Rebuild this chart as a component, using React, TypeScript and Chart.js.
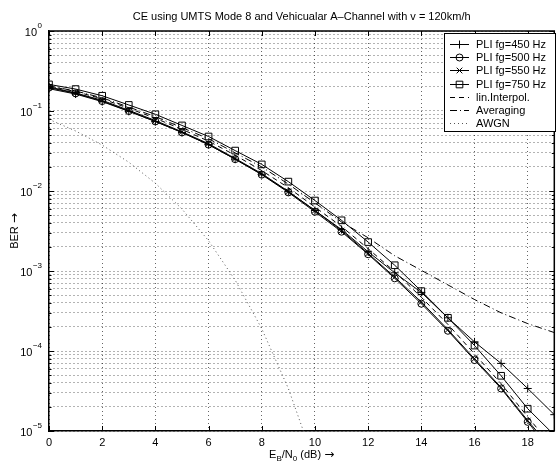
import React, { useEffect, useRef } from 'react';
import { Chart, registerables } from 'chart.js';

Chart.register(...registerables);

// ---------------- data ----------------
const ebn0 = [0, 1, 2, 3, 4, 5, 6, 7, 8, 9, 10, 11, 12, 13, 14, 15, 16, 17, 18, 19];
const pli450 = [0.19, 0.163, 0.131, 0.099, 0.074, 0.054, 0.038, 0.025, 0.0162, 0.0098, 0.0057, 0.0033, 0.00174, 0.00095, 0.00054, 0.00026, 0.00013, 0.00007, 0.000034, 0.000016];
const pli500 = [0.196, 0.166, 0.133, 0.1, 0.074, 0.054, 0.038, 0.025, 0.016, 0.0096, 0.0055, 0.0031, 0.00162, 0.00081, 0.00039, 0.000179, 0.000077, 0.000034, 0.000013, 0.000005];
const pli550 = [0.2, 0.168, 0.136, 0.102, 0.076, 0.055, 0.039, 0.0255, 0.0165, 0.0099, 0.0057, 0.0032, 0.00166, 0.00084, 0.00041, 0.000185, 0.00008, 0.000035, 0.0000135, 0.0000055];
const pli750 = [0.215, 0.188, 0.155, 0.119, 0.091, 0.066, 0.048, 0.032, 0.0215, 0.0131, 0.0076, 0.0043, 0.0023, 0.00118, 0.00056, 0.00026, 0.000117, 0.000049, 0.000019, 0.0000089];
const linInterpol = [0.205, 0.175, 0.142, 0.108, 0.081, 0.059, 0.042, 0.028, 0.018, 0.011, 0.0063, 0.0036, 0.0019, 0.00098, 0.00047, 0.000215, 0.000092, 0.000039, 0.000015, 0.000006];
const averaging = [0.205, 0.178, 0.146, 0.112, 0.085, 0.062, 0.045, 0.03, 0.02, 0.0122, 0.0071, 0.0041, 0.0026, 0.00155, 0.00102, 0.00067, 0.00044, 0.0003, 0.00022, 0.00017];
const awgnX = [0, 1, 2, 3, 4, 5, 6, 7, 8, 9, 10];
const awgn = [0.0786, 0.0563, 0.0375, 0.0229, 0.0125, 0.00595, 0.00239, 0.00077, 0.00019, 0.000034, 0.0000039];

const xTickStep = 2;
const yDecades = [-5, -4, -3, -2, -1, 0];
const yMantissas = [1, 2, 3, 4, 5, 6, 7, 8, 9];

const titleText = 'CE using UMTS Mode 8 and Vehicualar A\u2013Channel with v = 120km/h';
const yTitle = 'BER \u2192';
const legendLabels = ['PLI fg=450 Hz', 'PLI fg=500 Hz', 'PLI fg=550 Hz', 'PLI fg=750 Hz', 'lin.Interpol.', 'Averaging', 'AWGN'];

const FONT = "'Liberation Sans', Arial, Helvetica, sans-serif";
const ARROW_FONT = "'DejaVu Sans', sans-serif";

function pts(xs: number[], ys: number[]) {
  return xs.map((x, i) => ({ x, y: ys[i] }));
}

function yTickValues(): number[] {
  const out: number[] = [];
  for (let i = 0; i < yDecades.length; i++) {
    const d = yDecades[i];
    if (d === 0) {
      out.push(1);
    } else {
      for (const m of yMantissas) out.push(Number((m * Math.pow(10, d)).toPrecision(6)));
    }
  }
  return out;
}

function drawMarker(ctx: CanvasRenderingContext2D, style: string, x: number, y: number, r: number) {
  ctx.beginPath();
  if (style === 'circle') {
    ctx.arc(x, y, r, 0, Math.PI * 2);
  } else if (style === 'rect') {
    const s = r * Math.SQRT1_2;
    ctx.rect(x - s, y - s, 2 * s, 2 * s);
  } else if (style === 'cross') {
    ctx.moveTo(x - r, y); ctx.lineTo(x + r, y);
    ctx.moveTo(x, y - r); ctx.lineTo(x, y + r);
  } else if (style === 'crossRot') {
    const s = r * Math.SQRT1_2;
    ctx.moveTo(x - s, y - s); ctx.lineTo(x + s, y + s);
    ctx.moveTo(x - s, y + s); ctx.lineTo(x + s, y - s);
  }
  ctx.stroke();
}

// draws a run of [text, kind] parts; kind: 'n' normal, 's' subscript, 'a' arrow
function measureParts(ctx: CanvasRenderingContext2D, parts: [string, string][]) {
  let total = 0;
  for (const [s, k] of parts) {
    ctx.font = k === 's' ? `8px ${FONT}` : k === 'a' ? `12px ${ARROW_FONT}` : `11px ${FONT}`;
    total += ctx.measureText(s).width;
  }
  return total;
}
function drawParts(ctx: CanvasRenderingContext2D, parts: [string, string][], x0: number, y: number) {
  let xx = x0;
  for (const [s, k] of parts) {
    ctx.font = k === 's' ? `8px ${FONT}` : k === 'a' ? `12px ${ARROW_FONT}` : `11px ${FONT}`;
    ctx.fillText(s, xx, k === 's' ? y + 4 : y);
    xx += ctx.measureText(s).width;
  }
}

const decorPlugin = {
  id: 'decor',
  afterDraw(chart: any) {
    const { ctx, chartArea: a, scales } = chart;
    const xs = scales.x;
    const ys = scales.y;
    ctx.save();
    ctx.strokeStyle = '#000';
    ctx.fillStyle = '#000';
    ctx.setLineDash([]);

    // top & right box lines
    ctx.lineWidth = 1.5;
    ctx.beginPath();
    ctx.moveTo(a.left, a.top);
    ctx.lineTo(a.right, a.top);
    ctx.lineTo(a.right, a.bottom);
    ctx.stroke();

    // inner tick marks
    ctx.lineWidth = 1;
    for (const t of xs.ticks) {
      const px = Math.round(xs.getPixelForValue(t.value)) + 0.5;
      ctx.beginPath();
      ctx.moveTo(px, a.bottom); ctx.lineTo(px, a.bottom - 5);
      ctx.moveTo(px, a.top); ctx.lineTo(px, a.top + 5);
      ctx.stroke();
    }
    for (const t of ys.ticks) {
      const lg = Math.log10(t.value);
      const major = Math.abs(lg - Math.round(lg)) < 1e-6;
      const len = major ? 5 : 2.5;
      const py = Math.round(ys.getPixelForValue(t.value)) + 0.5;
      ctx.beginPath();
      ctx.moveTo(a.left, py); ctx.lineTo(a.left + len, py);
      ctx.moveTo(a.right, py); ctx.lineTo(a.right - len, py);
      ctx.stroke();
    }

    // y tick labels 10^n
    for (const t of ys.ticks) {
      const lg = Math.log10(t.value);
      if (Math.abs(lg - Math.round(lg)) > 1e-6) continue;
      const e = Math.round(lg);
      const py = ys.getPixelForValue(t.value);
      const expStr = e < 0 ? '\u2212' + String(-e) : String(e);
      ctx.font = `8px ${FONT}`;
      const ew = ctx.measureText(expStr).width;
      const R = 42;
      ctx.textBaseline = 'middle';
      ctx.textAlign = 'left';
      ctx.fillText(expStr, R - ew, py - 5);
      ctx.font = `11px ${FONT}`;
      ctx.textAlign = 'right';
      ctx.fillText('10', R - ew - 0.5, py + 1.5);
    }

    // title
    const cx = (a.left + a.right) / 2;
    ctx.font = `11px ${FONT}`;
    ctx.textAlign = 'center';
    ctx.textBaseline = 'middle';
    ctx.fillText(titleText, cx, 17);

    // x axis title with subscripts
    const parts: [string, string][] = [['E', 'n'], ['B', 's'], ['/N', 'n'], ['0', 's'], [' (dB) ', 'n'], ['\u2192', 'a']];
    const total = measureParts(ctx, parts);
    ctx.textAlign = 'left';
    drawParts(ctx, parts, cx - total / 2, 455);

    // y axis title
    ctx.save();
    ctx.translate(15, (a.top + a.bottom) / 2);
    ctx.rotate(-Math.PI / 2);
    ctx.textAlign = 'left';
    ctx.textBaseline = 'middle';
    const yParts: [string, string][] = [['BER ', 'n'], ['\u2192', 'a']];
    const yt = measureParts(ctx, yParts);
    drawParts(ctx, yParts, -yt / 2, 0);
    ctx.restore();

    // legend
    const L = 444, T = 33, W = 111, H = 98;
    ctx.fillStyle = '#fff';
    ctx.fillRect(L, T, W, H);
    ctx.strokeStyle = '#000';
    ctx.lineWidth = 1;
    ctx.strokeRect(L + 0.5, T + 0.5, W, H);
    const ds = chart.data.datasets;
    for (let i = 0; i < ds.length; i++) {
      const d = ds[i];
      const ry = Math.round(T + 11 + i * 13.2) + 0.5;
      ctx.strokeStyle = d.borderColor;
      ctx.lineWidth = d.borderWidth || 1;
      ctx.setLineDash(d.borderDash || []);
      ctx.beginPath();
      ctx.moveTo(450, ry);
      ctx.lineTo(469, ry);
      ctx.stroke();
      ctx.setLineDash([]);
      if (d.pointRadius > 0) {
        ctx.strokeStyle = '#000';
        ctx.lineWidth = 1;
        drawMarker(ctx, d.pointStyle, 459.5, ry, d.pointRadius);
      }
      ctx.fillStyle = '#000';
      ctx.font = `11px ${FONT}`;
      ctx.textAlign = 'left';
      ctx.textBaseline = 'middle';
      ctx.fillText(d.label, 476, ry);
    }
    ctx.restore();
  },
};

export default function App() {
  const ref = useRef<HTMLCanvasElement | null>(null);

  useEffect(() => {
    if (!ref.current) return;
    const base = {
      borderColor: '#000',
      backgroundColor: 'rgba(0,0,0,0)',
      pointBorderColor: '#000',
      pointBackgroundColor: 'rgba(0,0,0,0)',
      borderWidth: 1,
      pointBorderWidth: 1,
      tension: 0,
      fill: false,
    };
    const chart = new Chart(ref.current, {
      type: 'line',
      data: {
        datasets: [
          { ...base, label: legendLabels[0], data: pts(ebn0, pli450), pointStyle: 'cross', pointRadius: 4 },
          { ...base, label: legendLabels[1], data: pts(ebn0, pli500), pointStyle: 'circle', pointRadius: 3.5 },
          { ...base, label: legendLabels[2], data: pts(ebn0, pli550), pointStyle: 'crossRot', pointRadius: 4 },
          { ...base, label: legendLabels[3], data: pts(ebn0, pli750), pointStyle: 'rect', pointRadius: 4.7 },
          { ...base, label: legendLabels[4], data: pts(ebn0, linInterpol), pointRadius: 0, borderDash: [5, 4] },
          { ...base, label: legendLabels[5], data: pts(ebn0, averaging), pointRadius: 0, borderDash: [7, 3, 1, 3] },
          { ...base, label: legendLabels[6], data: pts(awgnX, awgn), pointRadius: 0, borderDash: [1, 3], borderColor: '#555' },
        ] as any,
      },
      options: {
        animation: false,
        responsive: false,
        devicePixelRatio: 1,
        events: [],
        layout: { padding: { top: 31, right: 1, left: 0, bottom: 0 } },
        plugins: {
          legend: { display: false },
          title: { display: false },
          tooltip: { enabled: false },
        },
        scales: {
          x: {
            type: 'linear',
            min: 0,
            max: 19,
            afterFit: (s: any) => { s.height = 33; },
            ticks: {
              stepSize: xTickStep,
              includeBounds: false,
              color: '#000',
              font: { family: FONT, size: 11 },
              padding: 5,
              maxRotation: 0,
            },
            grid: { color: 'rgba(0,0,0,0.6)', lineWidth: 1, drawTicks: false },
            border: { display: true, color: '#000', width: 1.5, dash: [1, 3] },
          },
          y: {
            type: 'logarithmic',
            min: 1e-5,
            max: 1,
            afterFit: (s: any) => { s.width = 49; },
            afterBuildTicks: (s: any) => { s.ticks = yTickValues().map((v) => ({ value: v })); },
            ticks: { display: false, autoSkip: false },
            grid: { color: 'rgba(0,0,0,0.6)', lineWidth: 1, drawTicks: false },
            border: { display: true, color: '#000', width: 1.5, dash: [1, 3] },
          },
        },
      } as any,
      plugins: [decorPlugin],
    });
    return () => chart.destroy();
  }, []);

  return (
    <div style={{ position: 'absolute', left: 0, top: 0, width: 560, height: 464, background: '#fff' }}>
      <canvas ref={ref} width={560} height={464} style={{ display: 'block' }} />
    </div>
  );
}
